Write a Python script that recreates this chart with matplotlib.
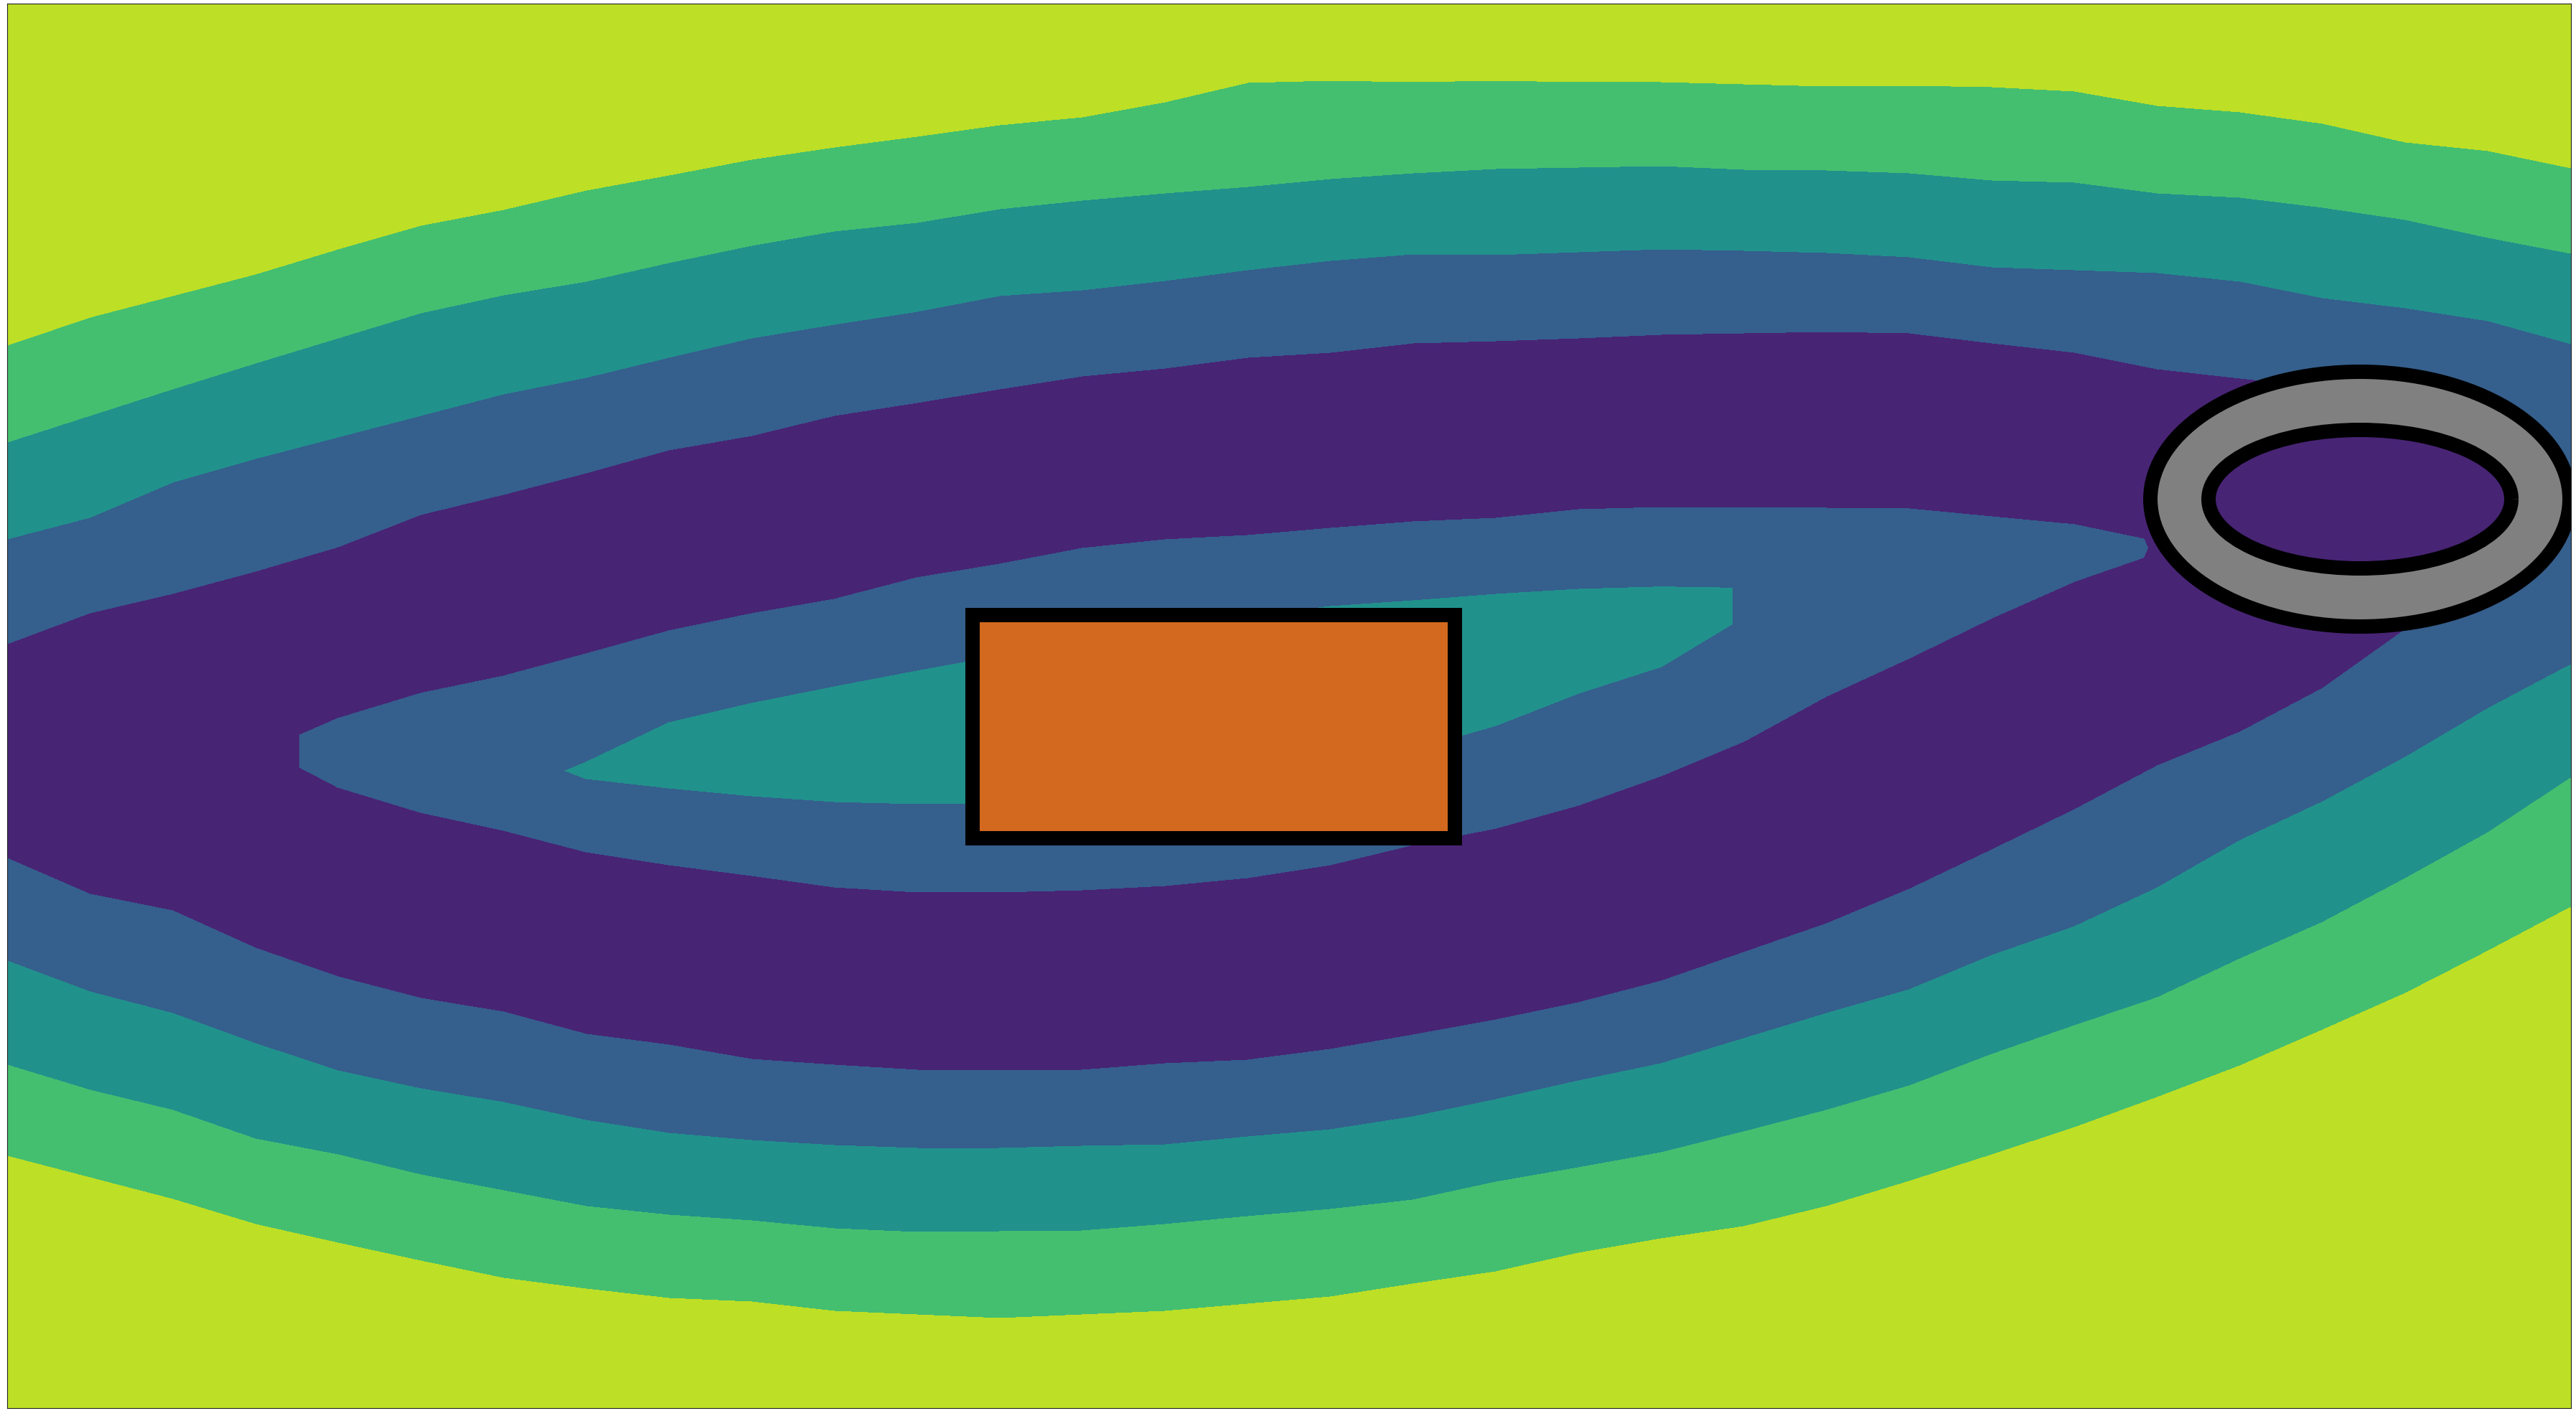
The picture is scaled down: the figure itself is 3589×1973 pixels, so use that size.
import numpy as np
import matplotlib
matplotlib.use("Agg")
import matplotlib.pyplot as plt
from matplotlib.patches import Rectangle, Annulus

# Field sampled on a curvilinear grid: 32 columns across the plot, and in every
# column the y (pixels from the top) where the field takes the row's value.
n_cols = 32
x_left, x_right = 10, 3582
y_top, y_bottom = 6, 1963

levels = [0, 1, 2, 3, 4, 5]

# upper side of the valley
yellow_green_top = [482, 443, 413, 383, 348, 315, 293, 266, 245, 223, 206, 191, 175, 164, 143, 116,
                    113, 115, 113, 115, 115, 118, 121, 120, 122, 128, 148, 157, 173, 199, 211, 235]
green_teal_top = [617, 580, 543, 507, 472, 437, 412, 393, 367, 343, 323, 311, 292, 280, 270, 261,
                  250, 242, 236, 234, 232, 237, 238, 242, 252, 255, 270, 276, 290, 307, 332, 354]
teal_blue_top = [752, 722, 673, 640, 610, 580, 550, 527, 499, 472, 453, 435, 413, 405, 392, 377,
                 364, 355, 356, 352, 348, 350, 353, 359, 373, 377, 381, 393, 416, 430, 448, 480]
blue_purple_top = [898, 855, 828, 797, 763, 718, 690, 660, 628, 608, 580, 562, 543, 525, 514, 499,
                   492, 479, 476, 472, 467, 465, 463, 465, 479, 492, 515, 528, 540, 575, 620, 560]
purple_mid_top = [935, 900, 880, 870, 882, 842, 816, 786, 754, 732, 708, 684, 665, 645, 633, 623,
                  614, 603, 600, 591, 588, 586, 586, 588, 600, 612, 628, 620, 600, 620, 645, 600]

# inner ridge (blue tongue with the teal core)
tongue_top = [975, 960, 950, 990, 1002, 967, 943, 912, 880, 856, 836, 806, 787, 765, 753, 747,
              737, 728, 723, 711, 708, 708, 709, 710, 721, 732, 740, 690, 650, 660, 665, 640]
core_top = [1010, 1010, 1000, 1020, 1030, 1010, 1010, 1063, 1008, 981, 958, 936, 915, 895, 878, 860,
            846, 838, 829, 822, 822, 820, 790, 760, 755, 752, 752, 720, 690, 690, 685, 670]
core_mid = [1045, 1045, 1040, 1045, 1050, 1050, 1075, 1075, 1053, 1045, 1038, 1028, 1018, 1000, 990, 972,
            955, 940, 920, 895, 872, 870, 840, 810, 790, 771, 763, 760, 720, 720, 698, 698]
core_bottom = [1080, 1080, 1080, 1070, 1070, 1090, 1120, 1086, 1099, 1110, 1118, 1121, 1120, 1110, 1100, 1085,
               1065, 1045, 1012, 967, 930, 930, 900, 860, 825, 791, 775, 800, 760, 750, 712, 725]
tongue_bottom = [1115, 1130, 1130, 1100, 1098, 1133, 1158, 1188, 1206, 1221, 1237, 1244, 1244, 1241, 1235, 1224,
                 1206, 1178, 1155, 1123, 1082, 1034, 971, 918, 862, 811, 790, 850, 820, 790, 735, 760]

# lower side of the valley
purple_mid_bottom = [1160, 1190, 1200, 1210, 1230, 1262, 1285, 1315, 1331, 1349, 1361, 1368, 1368, 1366, 1359, 1351,
                     1334, 1310, 1288, 1260, 1225, 1181, 1130, 1079, 1024, 970, 930, 930, 890, 830, 755, 820]
purple_blue_bottom = [1197, 1247, 1270, 1322, 1362, 1392, 1411, 1442, 1457, 1477, 1485, 1492, 1492, 1492, 1483, 1478,
                      1463, 1443, 1422, 1398, 1368, 1328, 1288, 1240, 1185, 1129, 1068, 1021, 960, 878, 775, 880]
blue_teal_bottom = [1340, 1383, 1413, 1455, 1493, 1518, 1537, 1562, 1580, 1590, 1597, 1601, 1601, 1598, 1596, 1585,
                    1575, 1557, 1533, 1507, 1483, 1448, 1413, 1380, 1332, 1292, 1238, 1172, 1118, 1056, 988, 927]
teal_green_bottom = [1485, 1520, 1548, 1588, 1610, 1638, 1660, 1682, 1694, 1702, 1713, 1718, 1717, 1716, 1707, 1696,
                     1686, 1673, 1648, 1628, 1607, 1578, 1548, 1514, 1470, 1430, 1391, 1337, 1286, 1225, 1161, 1085]
green_yellow_bottom = [1612, 1642, 1672, 1707, 1733, 1758, 1782, 1797, 1810, 1815, 1828, 1833, 1838, 1833, 1828, 1818,
                       1808, 1790, 1773, 1747, 1727, 1710, 1682, 1647, 1610, 1572, 1530, 1486, 1436, 1385, 1326, 1265]

# field values on the rows that are not plain level crossings
z_edge = 4.6
z_blue_purple = [1] * 31 + [1.6]
z_purple_mid = [0.5] * 30 + [0.6, 1.4]
z_tongue_edge = [0.55, 0.55, 0.55, 0.75] + [1] * 22 + [0.9, 0.6, 0.55, 0.55, 0.6, 1.3]
z_core_top = [0.5, 0.5, 0.5, 0.6, 1.35, 1.5, 1.6] + [2] * 13 + \
             [2.03, 1.995, 1.4, 1.35, 1.3, 1.25, 0.95, 0.6, 0.55, 0.55, 0.6, 1.3]
z_core_mid = [0.45, 0.45, 0.45, 0.6, 1.35, 1.6, 1.7, 2.1, 2.3] + [2.4] * 12 + \
             [1.935, 1.5, 1.4, 1.35, 1.3, 0.96, 0.6, 0.55, 0.55, 0.6, 1.3]
z_core_bottom = [0.5, 0.5, 0.5, 0.6, 1.35, 1.5, 1.6] + [2] * 14 + \
                [1.85, 1.4, 1.35, 1.3, 1.25, 0.95, 0.6, 0.55, 0.55, 0.6, 1.3]

# build the grid
x_cols = np.linspace(x_left, x_right, n_cols)
rows = [
    ([y_top] * n_cols, [z_edge] * n_cols),
    (yellow_green_top, [4] * n_cols),
    (green_teal_top, [3] * n_cols),
    (teal_blue_top, [2] * n_cols),
    (blue_purple_top, z_blue_purple),
    (purple_mid_top, z_purple_mid),
    (tongue_top, z_tongue_edge),
    (core_top, z_core_top),
    (core_mid, z_core_mid),
    (core_bottom, z_core_bottom),
    (tongue_bottom, z_tongue_edge),
    (purple_mid_bottom, z_purple_mid),
    (purple_blue_bottom, z_blue_purple),
    (blue_teal_bottom, [2] * n_cols),
    (teal_green_bottom, [3] * n_cols),
    (green_yellow_bottom, [4] * n_cols),
    ([y_bottom] * n_cols, [z_edge] * n_cols),
]
Y = np.array([r[0] for r in rows], dtype=float)
Z = np.array([r[1] for r in rows], dtype=float)
X = np.tile(x_cols, (len(rows), 1))

fig = plt.figure(figsize=(35.89, 19.74), dpi=100)
ax = fig.add_axes([x_left / 3589, (1974 - y_bottom) / 1974,
                   (x_right - x_left) / 3589, (y_bottom - y_top) / 1974])

ax.contourf(X, Y, Z, levels=levels, cmap="viridis")

# patches on top of the field
ax.add_patch(Rectangle((1355, 858), 672, 311, facecolor="chocolate",
                       edgecolor="black", linewidth=14.4, zorder=3))
ax.add_patch(Annulus((3288, 696.5), (292, 177.5), 81, facecolor="gray",
                     edgecolor="black", linewidth=14.4, zorder=3))

ax.set_xlim(x_left, x_right)
ax.set_ylim(y_bottom, y_top)
ax.set_xticks([])
ax.set_yticks([])
for s in ax.spines.values():
    s.set_linewidth(0.8)
    s.set_color("#222222")

fig.savefig("out.png", dpi=100)
